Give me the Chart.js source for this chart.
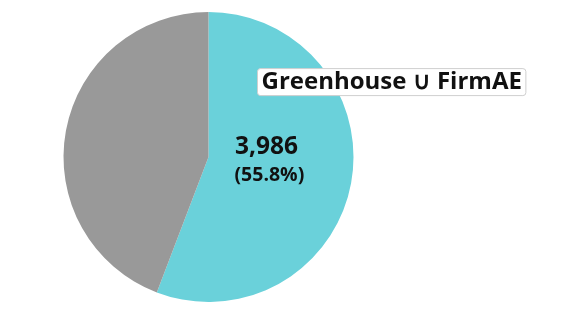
<!DOCTYPE html>
<html>
<head>
<meta charset="utf-8">
<script src="https://cdn.jsdelivr.net/npm/chart.js@4"></script>
<style>
  html, body { margin: 0; padding: 0; background: #fff; }
  #wrap { width: 565px; height: 313px; }
</style>
</head>
<body>
<div id="wrap"><canvas id="pieChart" width="565" height="313"></canvas></div>
<script>
const labels = ['Greenhouse ∪ FirmAE', 'Other'];
const counts = [3986, 3157];
const colors = ['#6AD1DA', '#999999'];

const total = counts.reduce((a, b) => a + b, 0);

// draws the count/percent inside the cyan slice and the name box beside it
const sliceText = {
  id: 'sliceText',
  afterDatasetsDraw(chart) {
    const ctx = chart.ctx;
    const arc = chart.getDatasetMeta(0).data[0];
    const r = arc.outerRadius;
    const cx = arc.x, cy = arc.y;
    const pct = (counts[0] / total * 100).toFixed(1);

    ctx.save();
    ctx.fillStyle = '#111';
    ctx.textAlign = 'center';
    ctx.textBaseline = 'middle';
    ctx.font = 'bold 24.5px "Open Sans"';
    ctx.fillText(counts[0].toLocaleString('en-US'), cx + r * 0.40, cy - r * 0.07);
    ctx.font = 'bold 19.5px "Open Sans"';
    ctx.fillText('(' + pct + '%)', cx + r * 0.42, cy + r * 0.13);

    // name box
    ctx.font = 'bold 24px "Open Sans"';
    const w = ctx.measureText(labels[0]).width + 8;
    const h = 27;
    const bx = cx + r * 1.26 - w / 2, by = cy - r * 0.52 - h / 2;
    ctx.beginPath();
    ctx.roundRect(bx + 0.5, by + 0.5, w, h, 3);
    ctx.fillStyle = '#fff';
    ctx.fill();
    ctx.strokeStyle = '#cfcfcf';
    ctx.lineWidth = 1;
    ctx.stroke();
    ctx.fillStyle = '#111';
    ctx.fillText(labels[0], bx + w / 2 + 0.5, by + h / 2 + 1);
    ctx.restore();
  }
};

new Chart(document.getElementById('pieChart'), {
  type: 'pie',
  data: {
    labels: labels,
    datasets: [{
      data: counts,
      backgroundColor: colors,
      borderWidth: 0
    }]
  },
  options: {
    responsive: false,
    animation: false,
    layout: { padding: { left: 63, right: 211, top: 12, bottom: 11 } },
    plugins: {
      legend: { display: false },
      tooltip: { enabled: false }
    }
  },
  plugins: [sliceText]
});
</script>
</body>
</html>
